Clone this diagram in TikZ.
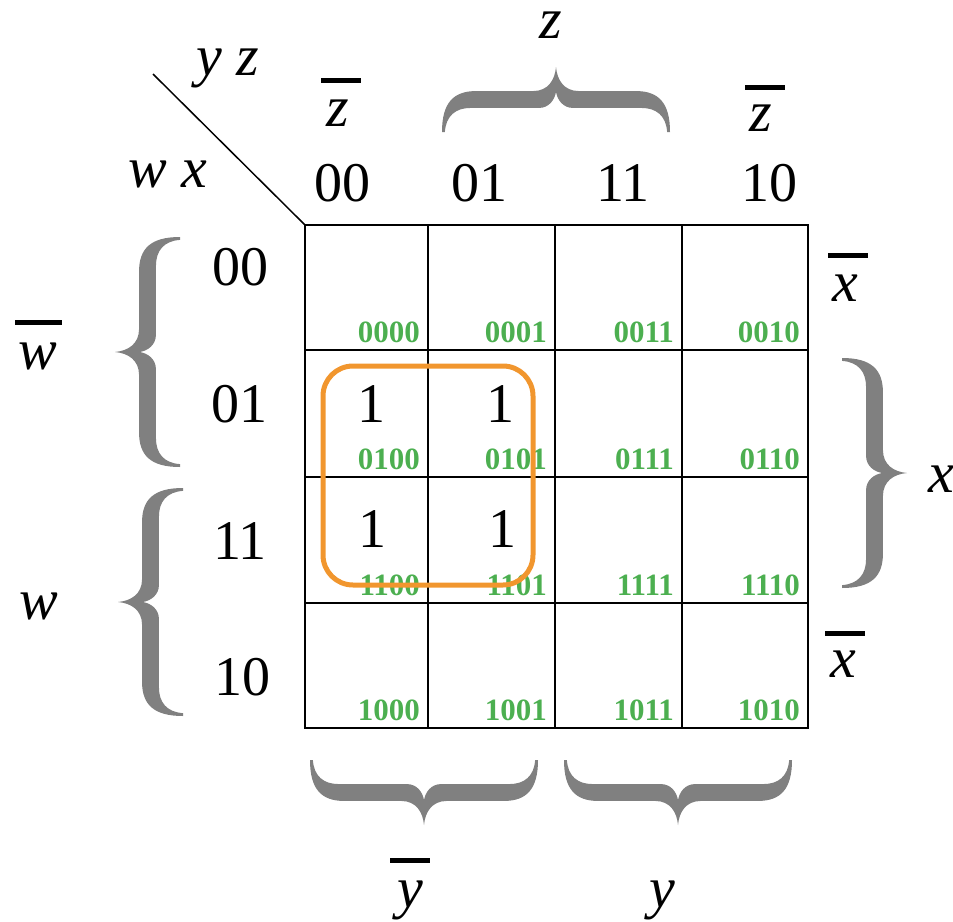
\documentclass[tikz,border=0pt]{standalone}
\usepackage{fontspec}
\setmainfont{Liberation Serif}
\definecolor{kgreen}{RGB}{76,175,80}
\definecolor{korange}{RGB}{241,150,46}
\definecolor{kgray}{RGB}{128,128,128}
\newcommand{\kdigfont}{\fontsize{56}{60}\selectfont}
\newcommand{\kletfont}{\fontsize{58}{62}\selectfont\itshape}
\newcommand{\kcodefont}{\fontsize{31}{34}\selectfont\bfseries}
\newcommand{\kbracefill}{%
\fill[kgray] (-1,0) .. controls (-1,0.45) and (-0.9,0.63) .. (-0.70,0.63)
 -- (-0.20,0.63) .. controls (-0.07,0.63) and (-0.01,0.8) .. (0,1)
 .. controls (0.01,0.8) and (0.07,0.63) .. (0.20,0.63)
 -- (0.70,0.63) .. controls (0.9,0.63) and (1,0.45) .. (1,0)
 -- (0.975,0) .. controls (0.965,0.25) and (0.88,0.37) .. (0.75,0.37)
 -- (0.15,0.37) .. controls (0.06,0.37) and (0.01,0.5) .. (0,0.62)
 .. controls (-0.01,0.5) and (-0.06,0.37) .. (-0.15,0.37)
 -- (-0.75,0.37) .. controls (-0.88,0.37) and (-0.965,0.25) .. (-0.975,0) -- cycle;}
\begin{document}
\begin{tikzpicture}[x=1pt,y=-1pt,
  gridline/.style={line width=2pt, black},
  digit/.style={inner sep=0pt, anchor=base, font=\kdigfont},
  letter/.style={inner sep=0pt, anchor=base, font=\kletfont},
  one/.style={inner sep=0pt, anchor=base, font=\kdigfont},
  code/.style={inner sep=0pt, anchor=base east, font=\kcodefont, text=kgreen},
  barline/.style={line width=5pt, black},
  group/.style={draw=korange, line width=5pt, rounded corners=30pt}]
\useasboundingbox (0,0) rectangle (953,921);
% grid
\coordinate (c00) at (305,225);
\coordinate (dstart) at (153,74);
\draw[gridline] (305,225) rectangle (808,728);
\foreach \xx in {428,555,682} \draw[gridline] (\xx,225) -- (\xx,728);
\foreach \yy in {350,477,603} \draw[gridline] (305,\yy) -- (808,\yy);
\draw[line width=1.5pt] (dstart) -- (c00);
% corner labels
\node[letter] (yz) at (228,75) {y z};
\node[letter] (wx) at (168,187) {w x};
% column headers
\node[digit] (h00) at (342,201) {00};
\node[digit] (h01) at (479,201) {01};
\node[digit] (h11) at (623,201) {11};
\node[digit] (h10) at (769,201) {10};
% row headers
\node[digit] (r00) at (240,285) {00};
\node[digit] (r01) at (239,422) {01};
\node[digit] (r11) at (240,559) {11};
\node[digit] (r10) at (242,695) {10};
% codes
\foreach \r/\rb in {00/350,01/477,11/603,10/728}
  \foreach \c/\cr in {00/428,01/555,11/682,10/808}
    \node[code] (m\r\c) at (\cr-8,\rb-8) {\r\c};
% ones
\node[one] (o1) at (371,422) {1};
\node[one] (o2) at (500,422) {1};
\node[one] (o3) at (372,547) {1};
\node[one] (o4) at (502,547) {1};
% group
\draw[group] (323,366) rectangle (533,585);
% braces
\begin{scope}[shift={(556,132)}, xscale=114, yscale=-65]\kbracefill\end{scope}
\begin{scope}[shift={(424,760)}, xscale=114, yscale=65]\kbracefill\end{scope}
\begin{scope}[shift={(678,760)}, xscale=114, yscale=65]\kbracefill\end{scope}
\begin{scope}[shift={(180,352)}, rotate=90, xscale=115, yscale=-65]\kbracefill\end{scope}
\begin{scope}[shift={(183,602)}, rotate=90, xscale=114, yscale=-65]\kbracefill\end{scope}
\begin{scope}[shift={(842,473)}, rotate=90, xscale=115, yscale=65]\kbracefill\end{scope}
% variable labels
\node[letter, text height=26pt] (zt) at (551,38) {z};
\node[letter] (zl) at (338,126) {z};
\draw[barline] (321,80) -- (361,80);
\node[letter] (zr) at (761,131) {z};
\draw[barline] (745,87) -- (785,87);
\node[letter] (wb) at (38,369) {w};
\draw[barline] (15,322) -- (62,322);
\node[letter] (wl) at (39,619) {w};
\node[letter] (xu) at (845,301) {x};
\draw[barline] (828,255) -- (868,255);
\node[letter] (xd) at (843,677) {x};
\draw[barline] (825,633) -- (865,633);
\node[letter] (xr) at (941,492) {x};
\node[letter] (yb) at (410,907) {y};
\draw[barline] (390,860) -- (430,860);
\node[letter] (yy) at (662,907) {y};
\end{tikzpicture}
\end{document}
